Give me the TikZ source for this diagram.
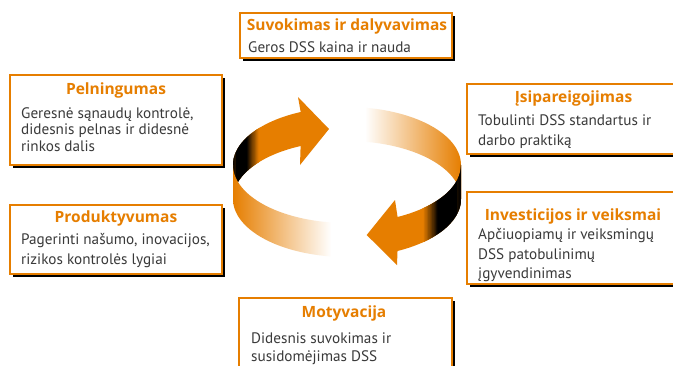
\documentclass[tikz,border=0pt]{standalone}
\usepackage{fontspec}
\setmainfont{PT Sans}
\newfontfamily\ttlfont{Open Sans}
\definecolor{orng}{HTML}{E67E00}
\definecolor{txt}{HTML}{3A3A3A}
\newcommand\bandseg[2]{plot[domain=#1:#2,samples=40] ({347+114*cos(\x)},{165-58*sin(\x)}) -- plot[domain=#2:#1,samples=40] ({347+114*cos(\x)},{199-58*sin(\x)}) -- cycle}
\newcommand\smallseg[2]{plot[domain=#1:#2,samples=3] ({347+114*cos(\x)},{165-58*sin(\x)}) -- plot[domain=#2:#1,samples=3] ({347+114*cos(\x)},{199-58*sin(\x)}) -- cycle}
\newcommand\infobox[4]{%
  \fill[black] (#1+3,#2+3) rectangle (#3+3,#4+3);
  \draw[orng, line width=2pt, fill=white] (#1,#2) rectangle (#3,#4);}
\begin{document}
\begin{tikzpicture}[x=1pt,y=-1pt,
  ttl/.style={anchor=base, inner sep=0pt, font=\ttlfont\fontsize{15.5}{18}\selectfont\bfseries, text=orng},
  bdy/.style={anchor=base west, inner sep=0pt, font=\fontsize{15.2}{18}\selectfont, text=txt}]
\useasboundingbox (0,0) rectangle (673,365);
\clip (0,0) rectangle (673,365);
\fill[white] (0,0) rectangle (673,365);

% boxes
\infobox{240}{13}{452}{58}
\infobox{10}{75}{222}{165}
\infobox{467}{84}{690}{154}
\infobox{10}{205}{222}{274}
\infobox{467}{192}{690}{284}
\infobox{239}{298}{452}{390}

% texts
\node[ttl] (t1) at (347,30.5) {Suvokimas ir dalyvavimas};
\node[bdy] (b1) at (248,52.5) {Geros DSS kaina ir nauda};

\node[ttl] (t2) at (116,94) {Pelningumas};
\node[bdy] (b2a) at (21,118) {Geresnė sąnaudų kontrolė,};
\node[bdy] (b2b) at (21,134.5) {didesnis pelnas ir didesnė};
\node[bdy] (b2c) at (21,151) {rinkos dalis};

\node[ttl] (t3) at (573.5,102) {Įsipareigojimas};
\node[bdy] (b3a) at (478,125) {Tobulinti DSS standartus ir};
\node[bdy] (b3b) at (478,145.5) {darbo praktiką};

\node[ttl] (t4) at (116,222.3) {Produktyvumas};
\node[bdy] (b4a) at (21,244.3) {Pagerinti našumo, inovacijos,};
\node[bdy] (b4b) at (21,264.3) {rizikos kontrolės lygiai};

\node[ttl] (t5) at (573,220) {Investicijos ir veiksmai};
\node[bdy] (b5a) at (478,239.5) {Apčiuopiamų ir veiksmingų};
\node[bdy] (b5b) at (478,259) {DSS patobulinimų};
\node[bdy] (b5c) at (478,278) {įgyvendinimas};

\node[ttl] (t6) at (344,317.3) {Motyvacija};
\node[bdy] (b6a) at (251,343.3) {Didesnis suvokimas ir};
\node[bdy] (b6b) at (251,361.7) {susidomėjimas DSS};

% left arrow: back part with dark inner side
\fill[orng] \bandseg{113}{180.5};
\foreach \t in {140,141,...,180} {
  \pgfmathsetmacro\p{min(100,max(0,(\t-140)*100/11))}
  \fill[black!\p!orng] \smallseg{\t}{\t+1.6};
}
\fill[orng] (298,97) -- (329,129) -- (300,165) -- (300.6,146.5) -- (300.6,111.5) -- cycle;
% left arrow: front part fading out
\shade[left color=orng, right color=white] \bandseg{180}{262};

% right arrow: back part fading in
\shade[left color=white, right color=orng] \bandseg{0}{81};
% right arrow: front part with dark inner side
\fill[orng] \bandseg{-65}{0};
\foreach \t in {-48,-47,...,0} {
  \pgfmathsetmacro\p{min(100,max(0,(\t+48)*100/11))}
  \fill[black!\p!orng] \smallseg{\t-0.6}{\t+1};
}
\fill[orng] (395,200) -- (366.7,235) -- (397,265) -- (397.5,251.5) -- (397.5,216.5) -- cycle;
\end{tikzpicture}
\end{document}
